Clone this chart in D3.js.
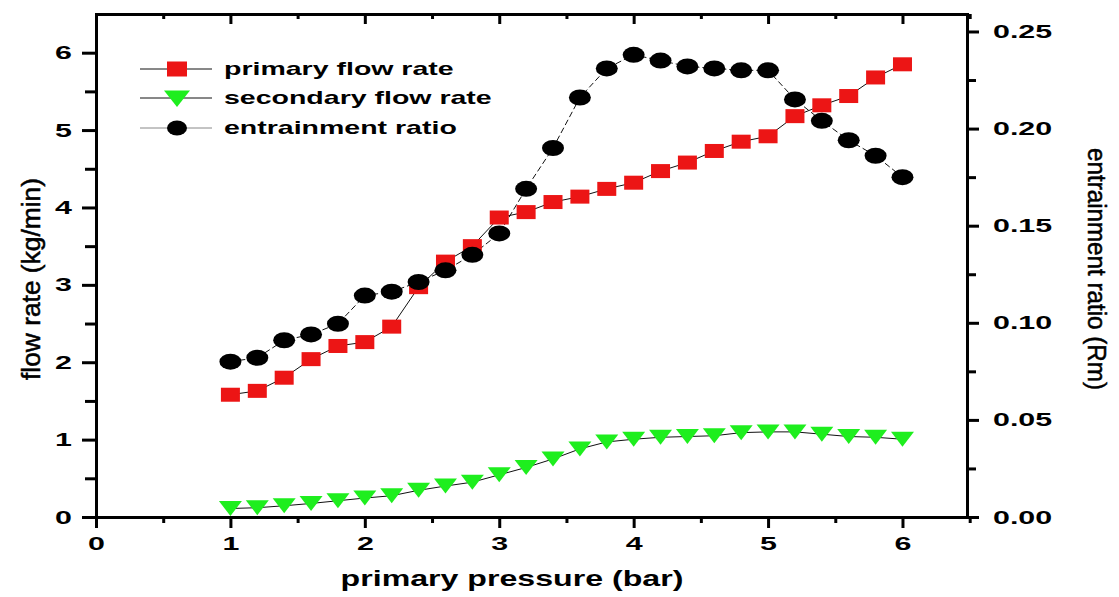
<!DOCTYPE html>
<html>
<head>
<meta charset="utf-8">
<script src="https://d3js.org/d3.v7.min.js"></script>
<style>
body { margin: 0; background: #fff; }
svg { display: block; background: #fff; }
text { font-family: "Liberation Sans", Arial, sans-serif; fill: #000; }
.axis path, .axis line { stroke: #000; stroke-width: 3px; }
.axis path { stroke-linecap: square; }
.axis text { font-weight: bold; font-size: 19px; }
.series { fill: none; stroke: #111; stroke-width: 1px; }
.legend text { font-weight: bold; font-size: 19px; }
.ytitle { font-size: 25px; stroke: #000; stroke-width: 0.5px; }
</style>
</head>
<body>
<svg width="1119" height="597"></svg>
<script>
// data
var pressure = [1.0, 1.2, 1.4, 1.6, 1.8, 2.0, 2.2, 2.4, 2.6, 2.8, 3.0, 3.2, 3.4,
                3.6, 3.8, 4.0, 4.2, 4.4, 4.6, 4.8, 5.0, 5.2, 5.4, 5.6, 5.8, 6.0];
var primaryFlow = [1.58, 1.63, 1.80, 2.04, 2.21, 2.26, 2.46, 2.97, 3.30, 3.50, 3.87, 3.94, 4.07,
                   4.14, 4.24, 4.32, 4.47, 4.58, 4.73, 4.85, 4.92, 5.18, 5.32, 5.44, 5.68, 5.85];
var secondaryFlow = [0.11, 0.12, 0.145, 0.175, 0.21, 0.245, 0.275, 0.345, 0.40, 0.45, 0.545, 0.64, 0.75,
                     0.88, 0.97, 1.005, 1.03, 1.04, 1.05, 1.09, 1.10, 1.10, 1.07, 1.04, 1.03, 1.005];
var entrainment = [0.080, 0.082, 0.091, 0.094, 0.0995, 0.114, 0.116, 0.121, 0.127, 0.135, 0.146, 0.169, 0.190,
                   0.216, 0.231, 0.238, 0.235, 0.232, 0.231, 0.230, 0.230, 0.215, 0.204, 0.194, 0.186, 0.175];

var xTicks = [0, 1, 2, 3, 4, 5, 6];
var xMinor = [0.5, 1.5, 2.5, 3.5, 4.5, 5.5, 6.5];
var yTicks = [0, 1, 2, 3, 4, 5, 6];
var yMinor = [0.5, 1.5, 2.5, 3.5, 4.5, 5.5];
var y2Ticks = [0, 0.05, 0.10, 0.15, 0.20, 0.25];
var y2Minor = [0.025, 0.075, 0.125, 0.175, 0.225];
var legendLabels = ["primary flow rate", "secondary flow rate", "entrainment ratio"];

var svg = d3.select("svg"),
    margin = {top: 14, right: 152, bottom: 80, left: 96},
    width = +svg.attr("width") - margin.left - margin.right,
    height = +svg.attr("height") - margin.top - margin.bottom,
    g = svg.append("g").attr("transform", "translate(" + margin.left + "," + margin.top + ")");

var x = d3.scaleLinear().domain([0, 6.48]).range([0, width]);
var y = d3.scaleLinear().domain([0, 6.5]).range([height, 0]);
var y2 = d3.scaleLinear().domain([0, 0.259]).range([height, 0]);

// the picture is stretched sideways, so the glyphs are too
function stretch(sel, k) {
  sel.each(function() {
    var w = this.getComputedTextLength();
    d3.select(this).attr("textLength", w * k).attr("lengthAdjust", "spacingAndGlyphs");
  });
}

// axes
g.append("g").attr("class", "axis")
    .attr("transform", "translate(0," + height + ")")
    .call(d3.axisBottom(x).tickValues(xMinor).tickSize(6).tickSizeOuter(0).tickFormat(""));
var xAxis = g.append("g").attr("class", "axis")
    .attr("transform", "translate(0," + height + ")")
    .call(d3.axisBottom(x).tickValues(xTicks).tickSize(11).tickSizeOuter(0).tickPadding(9).tickFormat(d3.format("d")));

g.append("g").attr("class", "axis")
    .call(d3.axisBottom(x).tickValues(xMinor).tickSize(5).tickSizeOuter(0).tickFormat(""));
g.append("g").attr("class", "axis")
    .call(d3.axisBottom(x).tickValues(xTicks).tickSize(10).tickSizeOuter(0).tickFormat(""));

g.append("g").attr("class", "axis")
    .call(d3.axisLeft(y).tickValues(yMinor).tickSize(11).tickSizeOuter(0).tickFormat(""));
var yAxis = g.append("g").attr("class", "axis")
    .call(d3.axisLeft(y).tickValues(yTicks).tickSize(14).tickSizeOuter(0).tickPadding(10).tickFormat(d3.format("d")));

g.append("g").attr("class", "axis")
    .attr("transform", "translate(" + width + ",0)")
    .call(d3.axisRight(y2).tickValues(y2Minor).tickSize(9).tickSizeOuter(0).tickFormat(""));
var y2Axis = g.append("g").attr("class", "axis")
    .attr("transform", "translate(" + width + ",0)")
    .call(d3.axisRight(y2).tickValues(y2Ticks).tickSize(12).tickSizeOuter(0).tickPadding(14).tickFormat(d3.format(".2f")));

stretch(xAxis.selectAll("text"), 1.6);
stretch(yAxis.selectAll("text"), 1.6);
stretch(y2Axis.selectAll("text"), 1.6);

// series lines
var rows = pressure.map(function(p, i) {
  return {p: p, primary: primaryFlow[i], secondary: secondaryFlow[i], ratio: entrainment[i]};
});

g.append("path").datum(rows).attr("class", "series")
    .attr("d", d3.line().x(function(d) { return x(d.p); }).y(function(d) { return y(d.secondary); }));
g.append("path").datum(rows).attr("class", "series")
    .attr("d", d3.line().x(function(d) { return x(d.p); }).y(function(d) { return y(d.primary); }));
g.append("path").datum(rows).attr("class", "series")
    .style("stroke-dasharray", "6,3")
    .attr("d", d3.line().x(function(d) { return x(d.p); }).y(function(d) { return y2(d.ratio); }));

var triPath = "M-11.5,-7.5L11.5,-7.5L0,7.5Z";

g.append("g").selectAll("path")
  .data(rows)
  .enter().append("path")
    .attr("d", triPath)
    .attr("fill", "#1eee1e")
    .attr("transform", function(d) { return "translate(" + x(d.p) + "," + y(d.secondary) + ")"; });

g.append("g").selectAll("rect")
  .data(rows)
  .enter().append("rect")
    .attr("x", function(d) { return x(d.p) - 9.5; })
    .attr("y", function(d) { return y(d.primary) - 7; })
    .attr("width", 19)
    .attr("height", 14)
    .attr("fill", "#ec1515");

g.append("g").selectAll("ellipse")
  .data(rows)
  .enter().append("ellipse")
    .attr("cx", function(d) { return x(d.p); })
    .attr("cy", function(d) { return y2(d.ratio); })
    .attr("rx", 11)
    .attr("ry", 8)
    .attr("fill", "#000");

// legend
var legend = svg.append("g").attr("class", "legend")
  .selectAll("g")
  .data(legendLabels)
  .enter().append("g")
    .attr("transform", function(d, i) { return "translate(140," + [69, 98, 128][i] + ")"; });

legend.append("line")
    .attr("x1", 0).attr("x2", 72)
    .attr("stroke", function(d, i) { return i == 2 ? "#888" : "#111"; })
    .attr("stroke-width", 1);

legend.each(function(d, i) {
  var s = d3.select(this);
  if (i == 0) s.append("rect").attr("x", 27).attr("y", -7.5).attr("width", 20).attr("height", 15).attr("fill", "#ec1515");
  if (i == 1) s.append("path").attr("d", "M-13,-7.5L13,-7.5L0,9Z").attr("transform", "translate(37,0)").attr("fill", "#1eee1e");
  if (i == 2) s.append("ellipse").attr("cx", 37).attr("rx", 10).attr("ry", 7.5).attr("fill", "#000");
});

var legendText = legend.append("text")
    .attr("x", 84)
    .attr("y", 6)
    .text(function(d) { return d; });
stretch(legendText, 1.5);

// axis titles
var xTitle = svg.append("text")
    .attr("x", 512)
    .attr("y", 586)
    .attr("text-anchor", "middle")
    .style("font-weight", "bold")
    .style("font-size", "22px")
    .text("primary pressure (bar)");
stretch(xTitle, 1.46);

svg.append("text")
    .attr("class", "ytitle")
    .attr("transform", "translate(40,279) rotate(-90)")
    .attr("text-anchor", "middle")
    .attr("textLength", 202)
    .attr("lengthAdjust", "spacingAndGlyphs")
    .text("flow rate (kg/min)");

svg.append("text")
    .attr("class", "ytitle")
    .attr("transform", "translate(1088,269) rotate(90)")
    .attr("text-anchor", "middle")
    .attr("textLength", 242)
    .attr("lengthAdjust", "spacingAndGlyphs")
    .text("entrainment ratio (Rm)");
</script>
</body>
</html>
